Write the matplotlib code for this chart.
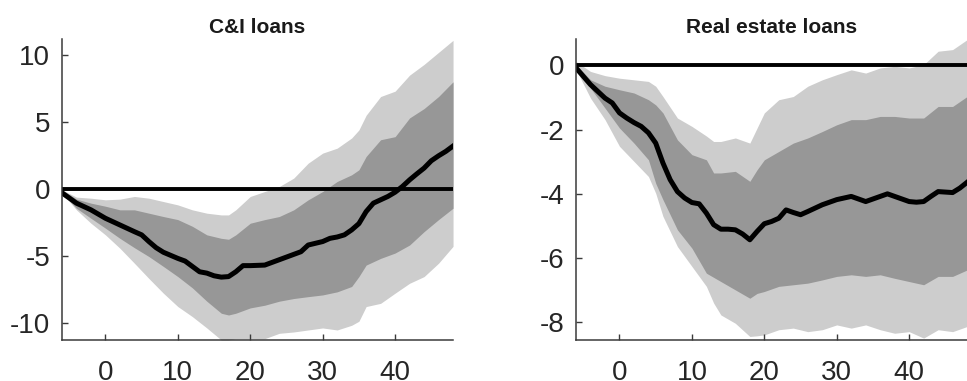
import matplotlib
matplotlib.use("Agg")
import matplotlib.pyplot as plt

# ---------- data: C&I loans ----------
ci_x = [-6, -4, -2, 0, 2, 4, 6, 8, 10, 12, 14, 16, 17, 18, 20, 22, 24, 26, 28, 30,
        32, 34, 35, 36, 38, 40, 42, 44, 46, 48]
ci_hi90 = [-0.07, -0.62, -0.7, -0.82, -0.77, -0.57, -0.7, -0.95, -1.2, -1.57, -1.82, -1.95, -1.95, -1.57,
           -0.57, -0.2, 0.17, 0.8, 1.92, 2.67, 3.04, 3.8, 4.4, 5.5, 6.9, 7.3, 8.5, 9.3, 10.2, 11.1]
ci_hi68 = [-0.07, -0.77, -1.07, -1.3, -1.57, -1.57, -1.82, -2.07, -2.3, -2.8, -3.44, -3.7, -3.77, -3.44,
           -2.57, -2.3, -2.07, -1.57, -0.82, -0.2, 0.55, 1.05, 1.42, 2.42, 3.67, 3.9, 5.3, 6.0, 6.9, 8.0]
ci_lo68 = [-0.3, -1.45, -2.2, -2.94, -3.7, -4.4, -5.06, -5.8, -6.56, -7.4, -8.4, -9.3, -9.43, -9.3,
           -8.9, -8.7, -8.4, -8.2, -8.06, -7.93, -7.7, -7.3, -6.56, -5.7, -5.2, -4.8, -4.2, -3.2, -2.3, -1.45]
ci_lo90 = [-0.3, -1.57, -2.57, -3.44, -4.44, -5.56, -6.7, -7.8, -8.8, -9.55, -10.4, -11.3, -11.3, -11.2,
           -11.2, -11.2, -10.8, -10.7, -10.55, -10.4, -10.55, -10.2, -9.9, -8.8, -8.56, -7.8, -7.06, -6.56,
           -5.56, -4.3]
ci_mx = [-6, -4, -2, 0, 2, 4, 5, 6, 7, 8, 10, 11, 12, 13, 14, 15, 16, 17, 18, 19, 20, 22, 24, 26, 27,
         28, 29, 30, 31, 32, 33, 34, 35, 36, 37, 38, 39, 40, 41, 42, 43, 44, 45, 46, 47, 48]
ci_med = [-0.3, -1.07, -1.57, -2.2, -2.7, -3.2, -3.44, -3.94, -4.4, -4.74, -5.2, -5.4, -5.8, -6.2, -6.3,
          -6.5, -6.6, -6.56, -6.2, -5.74, -5.74, -5.7, -5.3, -4.9, -4.7, -4.2, -4.07, -3.94, -3.7, -3.6,
          -3.44, -3.07, -2.6, -1.7, -1.07, -0.82, -0.57, -0.25, 0.17, 0.67, 1.12, 1.55, 2.1, 2.47, 2.8, 3.2]

# ---------- data: Real estate loans ----------
re_x = [-6, -4, -2, 0, 2, 4, 5, 6, 8, 10, 12, 13, 14, 16, 18, 19, 20, 22, 24, 26, 28, 30, 32, 34, 36,
        38, 40, 42, 44, 46, 48]
re_hi90 = [0.12, -0.19, -0.32, -0.4, -0.45, -0.5, -0.65, -0.97, -1.64, -1.9, -2.2, -2.37, -2.37, -2.26,
           -2.42, -1.95, -1.48, -1.07, -0.97, -0.65, -0.45, -0.29, -0.14, -0.24, -0.08, -0.03, -0.08,
           0.02, 0.44, 0.49, 0.8]
re_hi68 = [0.02, -0.45, -0.65, -0.76, -0.86, -1.07, -1.23, -1.48, -2.32, -2.78, -2.94, -3.35, -3.35, -3.3,
           -3.61, -3.25, -2.94, -2.68, -2.42, -2.26, -2.06, -1.85, -1.69, -1.69, -1.59, -1.59, -1.64,
           -1.64, -1.28, -1.28, -0.97]
re_lo68 = [-0.08, -0.71, -1.33, -1.95, -2.42, -2.94, -3.67, -4.18, -5.12, -5.69, -6.47, -6.6, -6.73, -6.99,
           -7.25, -7.1, -7.04, -6.88, -6.83, -6.78, -6.68, -6.57, -6.52, -6.57, -6.52, -6.63, -6.73,
           -6.83, -6.57, -6.57, -6.37]
re_lo90 = [-0.13, -1.02, -1.69, -2.52, -2.99, -3.46, -3.98, -4.7, -5.64, -6.26, -6.88, -7.4, -7.77, -8.03,
           -8.44, -8.42, -8.39, -8.23, -8.18, -8.29, -8.23, -8.08, -8.18, -8.08, -8.23, -8.34, -8.29,
           -8.49, -8.23, -8.29, -8.13]
re_mx = [-6, -4, -2, -1, 0, 1, 2, 3, 4, 5, 6, 7, 8, 9, 10, 11, 12, 13, 14, 15, 16, 17, 18, 19, 20, 21,
         22, 23, 24, 25, 26, 28, 30, 32, 33, 34, 35, 37, 38, 40, 41, 42, 43, 44, 46, 47, 48]
re_med = [-0.08, -0.6, -1.02, -1.17, -1.48, -1.64, -1.78, -1.9, -2.1, -2.42, -3.04, -3.56, -3.93, -4.13,
          -4.27, -4.31, -4.6, -4.96, -5.1, -5.1, -5.12, -5.25, -5.43, -5.17, -4.93, -4.86, -4.76, -4.5,
          -4.58, -4.65, -4.55, -4.34, -4.18, -4.08, -4.16, -4.24, -4.16, -4.0, -4.08, -4.24, -4.26,
          -4.24, -4.08, -3.93, -3.96, -3.82, -3.64]

titles = ["C&I loans", "Real estate loans"]
x_ticks = [0, 10, 20, 30, 40]
ci_yticks = [-10, -5, 0, 5, 10]
re_yticks = [-8, -6, -4, -2, 0]

# ---------- style ----------
plt.rcParams['font.family'] = ['Liberation Sans', 'DejaVu Sans']
plt.rcParams['axes.unicode_minus'] = False
LIGHT, DARK = '#cdcdcd', '#979797'

fig = plt.figure(figsize=(9.67, 3.81), dpi=100)
ax1 = fig.add_axes([0.0641, 0.1076, 0.4044, 0.79])
ax2 = fig.add_axes([0.5957, 0.1076, 0.4044, 0.79])

panels = [
    (ax1, ci_x, ci_hi90, ci_hi68, ci_lo68, ci_lo90, ci_mx, ci_med, ci_yticks, (-11.3, 11.2)),
    (ax2, re_x, re_hi90, re_hi68, re_lo68, re_lo90, re_mx, re_med, re_yticks, (-8.55, 0.82)),
]

for (ax, x, hi90, hi68, lo68, lo90, mx, med, yt, ylim), title in zip(panels, titles):
    ax.fill_between(x, lo90, hi90, color=LIGHT, linewidth=0)
    ax.fill_between(x, lo68, hi68, color=DARK, linewidth=0)
    ax.axhline(0, color='black', lw=2.8)
    ax.plot(mx, med, color='black', lw=3.6, solid_joinstyle='round')
    ax.set_xlim(-6, 48)
    ax.set_ylim(*ylim)
    ax.set_xticks(x_ticks)
    ax.set_yticks(yt)
    ax.set_title(title, fontsize=15, fontweight='bold', color='#1a1a1a', pad=4)
    for s in ['top', 'right']:
        ax.spines[s].set_visible(False)
    for s in ['left', 'bottom']:
        ax.spines[s].set_color('#3a3a3a')
        ax.spines[s].set_linewidth(1.1)
    ax.tick_params(direction='in', length=4, width=1.0, color='#3a3a3a',
                   labelsize=20, labelcolor='#262626')
    ax.tick_params(axis='x', pad=14.5)
    ax.tick_params(axis='y', pad=8.5)

fig.savefig('out.png', dpi=100)
